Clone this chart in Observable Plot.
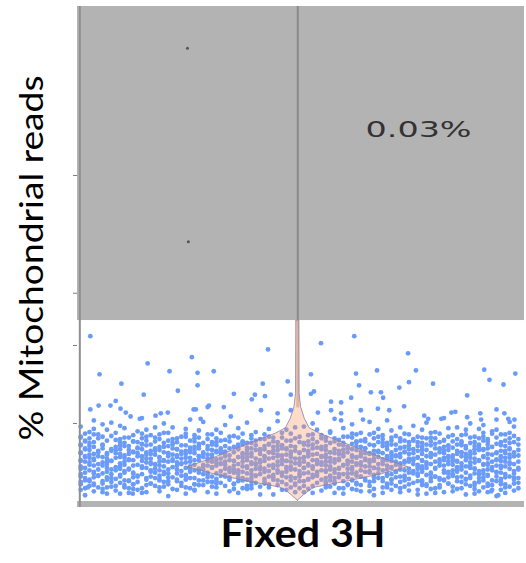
<!DOCTYPE html>
<html><head><meta charset="utf-8">
<script src="https://cdn.jsdelivr.net/npm/d3@7"></script>
<script src="https://cdn.jsdelivr.net/npm/@observablehq/plot@0.6"></script>
<style>body{margin:0;background:#fff}#chart svg{display:block}</style>
</head><body><div id="chart"></div>
<script>
// Jittered cells: [jitter x (0-100), value] pairs — dense band near the bottom
const bandPts = [
1,0.8, 6,1.0, 11,1.1, 20,0.7, 31,1.0, 44,0.9, 58,1.1, 67,0.8, 79,1.0, 88,0.9, 95,0.7,
0,1.5, 3,1.3, 8,1.4, 12,1.6, 15,1.2, 22,1.5, 26,1.4, 34,1.3, 38,1.6, 47,1.5, 51,1.2, 55,1.4, 62,1.6, 66,1.3, 71,1.5, 75,1.4, 83,1.2, 86,1.6, 91,1.3, 96,1.5, 99,1.4,
2,2.0, 4,1.8, 7,1.9, 10,2.1, 14,1.7, 17,2.0, 19,1.9, 24,1.8, 28,2.1, 30,1.9, 33,2.0, 37,1.7, 41,1.9, 45,2.1, 48,1.8, 53,2.0, 57,1.9, 60,1.7, 64,2.1, 69,1.8, 72,2.0, 74,1.9, 78,2.1, 81,1.7, 85,1.9, 89,2.0, 92,1.8, 94,2.1, 98,1.9,
0,2.5, 3,2.3, 5,2.6, 9,2.4, 12,2.2, 13,2.5, 16,2.3, 20,2.6, 23,2.4, 26,2.2, 29,2.5, 32,2.4, 35,2.3, 36,2.6, 40,2.4, 43,2.2, 46,2.5, 49,2.3, 50,2.6, 54,2.4, 58,2.5, 61,2.2, 63,2.4, 67,2.6, 70,2.3, 73,2.5, 76,2.4, 79,2.2, 80,2.6, 84,2.3, 87,2.5, 90,2.4, 93,2.3, 95,2.6, 97,2.2, 100,2.4,
1,3.0, 2,2.8, 6,3.1, 8,2.9, 11,2.7, 15,3.0, 18,2.9, 21,3.1, 22,2.8, 25,3.0, 27,2.7, 31,2.9, 34,3.1, 38,2.8, 39,3.0, 42,2.9, 45,2.7, 47,3.1, 52,2.9, 55,2.8, 56,3.0, 59,3.1, 62,2.7, 65,2.9, 68,3.0, 71,2.8, 72,3.1, 75,2.9, 78,2.7, 82,3.0, 83,2.8, 86,3.1, 88,2.9, 91,3.0, 94,2.7, 96,2.9, 99,3.1,
0,3.5, 4,3.3, 5,3.6, 9,3.4, 13,3.2, 14,3.5, 18,3.3, 20,3.6, 24,3.4, 28,3.5, 30,3.2, 33,3.4, 36,3.6, 40,3.3, 41,3.5, 44,3.4, 48,3.2, 51,3.6, 53,3.4, 57,3.3, 60,3.5, 61,3.6, 64,3.2, 67,3.4, 70,3.5, 74,3.3, 77,3.6, 79,3.4, 81,3.2, 85,3.5, 89,3.3, 90,3.6, 93,3.4, 97,3.5, 98,3.2,
2,4.0, 3,3.8, 7,4.1, 10,3.9, 12,3.7, 16,4.0, 19,3.8, 22,4.1, 23,3.9, 26,4.0, 29,3.7, 32,3.9, 35,4.1, 37,3.8, 39,4.0, 43,3.9, 46,3.7, 49,4.1, 50,3.9, 54,3.8, 55,4.0, 58,4.1, 63,3.7, 66,3.9, 69,4.0, 72,3.8, 73,4.1, 76,3.9, 80,3.7, 83,4.0, 84,3.8, 87,4.1, 91,3.9, 92,4.0, 95,3.7, 99,3.9,
0,4.5, 1,4.3, 5,4.6, 8,4.4, 11,4.2, 14,4.5, 15,4.3, 18,4.6, 21,4.4, 25,4.5, 27,4.2, 30,4.4, 31,4.6, 34,4.3, 38,4.5, 41,4.4, 42,4.2, 45,4.6, 47,4.4, 51,4.3, 53,4.5, 56,4.6, 59,4.2, 62,4.4, 65,4.5, 67,4.3, 70,4.6, 71,4.4, 75,4.2, 78,4.5, 81,4.3, 82,4.6, 86,4.4, 88,4.5, 90,4.2, 94,4.4, 96,4.6, 100,4.3,
2,5.0, 4,4.8, 6,5.1, 9,4.9, 13,4.7, 16,5.0, 17,4.8, 20,5.1, 23,4.9, 24,5.0, 28,4.7, 32,4.9, 33,5.1, 36,4.8, 39,5.0, 40,4.9, 44,4.7, 48,5.1, 49,4.9, 52,4.8, 55,5.0, 57,5.1, 60,4.7, 63,4.9, 64,5.0, 68,4.8, 72,5.1, 73,4.9, 77,4.7, 79,5.0, 80,4.8, 84,5.1, 87,4.9, 89,5.0, 92,4.7, 93,4.9, 97,5.1, 99,4.8,
0,5.3, 3,5.5, 7,5.2, 8,5.6, 11,5.4, 12,5.3, 15,5.5, 19,5.2, 21,5.4, 25,5.6, 26,5.3, 29,5.5, 31,5.4, 35,5.2, 37,5.6, 41,5.3, 43,5.5, 46,5.4, 47,5.2, 50,5.5, 54,5.3, 56,5.6, 58,5.4, 61,5.2, 65,5.5, 66,5.3, 69,5.4, 71,5.6, 74,5.2, 76,5.5, 78,5.3, 82,5.4, 83,5.6, 86,5.2, 90,5.5, 91,5.3, 95,5.4, 98,5.6,
1,5.8, 2,6.0, 5,5.7, 9,6.1, 10,5.9, 14,5.8, 17,6.0, 18,5.7, 22,5.9, 24,6.1, 27,5.8, 30,6.0, 34,5.9, 36,5.7, 38,6.1, 42,5.8, 45,6.0, 46,5.9, 51,5.7, 53,6.0, 55,5.8, 59,6.1, 62,5.9, 63,5.7, 67,6.0, 70,5.8, 72,5.9, 75,6.1, 77,5.7, 81,6.0, 84,5.8, 85,5.9, 88,6.1, 92,5.7, 94,6.0, 96,5.8, 100,5.9,
0,6.3, 4,6.5, 6,6.2, 8,6.6, 12,6.4, 15,6.3, 16,6.5, 20,6.2, 23,6.4, 26,6.6, 28,6.3, 31,6.5, 33,6.4, 37,6.2, 40,6.6, 43,6.3, 44,6.5, 48,6.4, 50,6.2, 52,6.5, 57,6.3, 60,6.6, 64,6.4, 66,6.2, 68,6.5, 71,6.3, 74,6.4, 79,6.6, 80,6.2, 83,6.5, 87,6.3, 89,6.4, 91,6.6, 95,6.2, 97,6.5, 99,6.3,
1,6.8, 3,7.0, 7,6.7, 10,7.1, 13,6.9, 17,6.8, 19,7.0, 22,6.7, 25,6.9, 29,7.1, 32,6.8, 35,7.0, 38,6.9, 41,6.7, 45,7.1, 47,6.8, 49,7.0, 54,6.9, 58,6.7, 61,7.0, 65,6.8, 69,7.1, 73,6.9, 76,6.7, 78,7.0, 82,6.8, 85,6.9, 88,7.1, 92,6.7, 94,7.0, 98,6.8,
0,7.3, 2,7.5, 5,7.2, 9,7.6, 14,7.4, 16,7.3, 21,7.5, 24,7.2, 27,7.4, 30,7.6, 36,7.3, 39,7.5, 43,7.4, 46,7.2, 50,7.6, 53,7.3, 57,7.5, 62,7.4, 67,7.2, 70,7.5, 72,7.3, 77,7.6, 81,7.4, 84,7.2, 89,7.5, 91,7.3, 95,7.4, 99,7.6,
1,7.8, 4,8.1, 8,7.9, 12,7.7, 18,8.0, 20,7.8, 26,8.1, 33,7.9, 37,7.7, 42,8.0, 48,7.8, 55,8.1, 59,7.9, 63,7.7, 69,8.0, 74,7.8, 79,8.1, 83,7.9, 87,7.7, 93,8.0, 97,7.8,
0,8.3, 3,8.6, 7,8.4, 11,8.2, 16,8.5, 23,8.3, 29,8.6, 35,8.4, 44,8.2, 52,8.5, 60,8.3, 66,8.6, 72,8.4, 78,8.2, 85,8.5, 90,8.3, 96,8.6, 99,8.4,
2,8.9, 6,9.2, 13,9.0, 19,8.8, 27,9.1, 40,8.9, 47,9.2, 57,9.0, 64,8.8, 71,9.1, 81,8.9, 88,9.2, 94,9.0, 98,8.8,
0,9.6, 5,9.9, 9,9.7, 21,9.5, 33,9.8, 51,9.6, 62,9.9, 76,9.7, 86,9.5, 92,9.8, 99,9.6,
3,10.4, 14,10.7, 25,10.5, 45,10.3, 58,10.6, 70,10.4, 83,10.7, 95,10.5
];
// second, interleaved set of band cells
const bandPts2 = [
5,1.2, 9,1.0, 14,1.1, 18,1.3, 24,1.0, 29,1.2, 36,1.1, 41,0.9, 49,1.2, 53,1.1, 60,1.0, 64,1.3, 69,1.1, 73,1.2, 77,0.9, 81,1.1, 85,1.3, 90,1.0, 93,1.2, 97,1.1,
1,1.7, 5,1.6, 6,1.8, 11,1.7, 13,1.5, 18,1.8, 21,1.6, 25,1.7, 26,1.5, 31,1.8, 35,1.6, 39,1.7, 43,1.8, 46,1.5, 50,1.7, 52,1.6, 56,1.8, 59,1.7, 63,1.5, 67,1.6, 70,1.8, 73,1.7, 77,1.5, 80,1.6, 82,1.8, 87,1.7, 90,1.6, 94,1.5, 97,1.8, 100,1.7,
0,2.2, 3,2.1, 5,2.3, 8,2.0, 12,2.2, 15,2.1, 16,2.3, 20,2.2, 23,2.0, 26,2.2, 27,2.1, 31,2.3, 35,2.2, 38,2.0, 39,2.1, 42,2.3, 47,2.2, 49,2.1, 51,2.0, 56,2.2, 58,2.3, 61,2.1, 63,2.2, 66,2.0, 70,2.1, 71,2.3, 75,2.2, 79,2.0, 82,2.1, 84,2.3, 88,2.2, 90,2.1, 93,2.0, 96,2.2, 99,2.3,
1,2.7, 2,2.6, 6,2.8, 7,2.5, 10,2.7, 11,2.6, 15,2.8, 18,2.7, 19,2.5, 22,2.6, 24,2.8, 28,2.7, 30,2.5, 31,2.6, 34,2.8, 37,2.7, 39,2.6, 42,2.5, 44,2.8, 48,2.7, 51,2.6, 52,2.8, 56,2.5, 57,2.7, 60,2.6, 62,2.8, 65,2.7, 66,2.5, 69,2.6, 71,2.8, 74,2.7, 77,2.6, 78,2.5, 82,2.8, 83,2.7, 86,2.6, 88,2.8, 91,2.5, 92,2.7, 96,2.6, 99,2.8,
0,3.2, 3,3.1, 4,3.3, 7,3.0, 9,3.2, 12,3.1, 13,3.3, 16,3.2, 17,3.0, 20,3.1, 23,3.3, 24,3.2, 26,3.0, 29,3.1, 32,3.3, 33,3.2, 36,3.1, 37,3.0, 40,3.3, 43,3.2, 44,3.1, 46,3.3, 49,3.0, 50,3.2, 53,3.1, 54,3.3, 57,3.2, 58,3.0, 61,3.1, 63,3.3, 64,3.2, 67,3.1, 69,3.0, 70,3.3, 73,3.2, 74,3.1, 77,3.3, 80,3.0, 81,3.2, 84,3.1, 85,3.3, 87,3.2, 89,3.0, 92,3.1, 93,3.3, 95,3.2, 97,3.1, 100,3.0,
1,3.7, 3,3.6, 6,3.8, 7,3.5, 10,3.7, 12,3.6, 16,3.8, 17,3.7, 19,3.5, 22,3.6, 25,3.8, 27,3.7, 29,3.5, 31,3.6, 34,3.8, 35,3.7, 38,3.6, 39,3.5, 42,3.8, 45,3.7, 46,3.6, 47,3.8, 50,3.5, 52,3.7, 54,3.6, 56,3.8, 58,3.7, 59,3.5, 62,3.6, 65,3.8, 66,3.7, 68,3.6, 71,3.5, 72,3.8, 75,3.7, 76,3.6, 78,3.8, 80,3.5, 83,3.7, 84,3.6, 86,3.8, 88,3.7, 91,3.5, 92,3.6, 95,3.8, 96,3.7, 99,3.6,
0,4.2, 4,4.1, 6,4.3, 8,4.0, 9,4.2, 11,4.1, 14,4.3, 17,4.2, 18,4.0, 20,4.1, 24,4.3, 25,4.2, 27,4.0, 28,4.1, 30,4.3, 33,4.2, 34,4.1, 36,4.0, 38,4.3, 40,4.2, 41,4.1, 44,4.3, 45,4.0, 47,4.2, 48,4.1, 51,4.3, 53,4.2, 56,4.0, 57,4.1, 59,4.3, 61,4.2, 62,4.1, 64,4.0, 67,4.3, 68,4.2, 70,4.1, 71,4.3, 74,4.0, 77,4.2, 78,4.1, 79,4.3, 81,4.2, 85,4.0, 86,4.1, 89,4.3, 90,4.2, 93,4.1, 94,4.0, 96,4.3, 98,4.2, 100,4.1,
2,4.7, 3,4.6, 6,4.8, 9,4.5, 10,4.7, 12,4.6, 16,4.8, 17,4.7, 19,4.5, 22,4.6, 23,4.8, 26,4.7, 28,4.5, 29,4.6, 32,4.8, 33,4.7, 35,4.6, 37,4.5, 39,4.8, 40,4.7, 43,4.6, 46,4.8, 48,4.5, 50,4.7, 52,4.6, 54,4.8, 55,4.7, 57,4.5, 60,4.6, 61,4.8, 63,4.7, 64,4.6, 66,4.5, 69,4.8, 72,4.7, 73,4.6, 76,4.8, 77,4.5, 79,4.7, 83,4.6, 84,4.8, 85,4.7, 87,4.5, 89,4.6, 92,4.8, 93,4.7, 95,4.6, 97,4.5, 98,4.8,
0,5.2, 1,5.1, 3,5.3, 5,5.0, 7,5.2, 10,5.1, 11,5.3, 14,5.2, 15,5.0, 18,5.1, 19,5.3, 21,5.2, 22,5.0, 25,5.1, 27,5.3, 29,5.2, 30,5.1, 31,5.0, 34,5.3, 35,5.2, 37,5.1, 38,5.3, 41,5.0, 42,5.2, 45,5.1, 46,5.3, 47,5.2, 50,5.0, 51,5.1, 53,5.3, 54,5.2, 56,5.1, 58,5.0, 59,5.3, 61,5.2, 62,5.1, 65,5.3, 66,5.0, 67,5.2, 69,5.1, 70,5.3, 71,5.2, 74,5.0, 75,5.1, 76,5.3, 78,5.2, 81,5.1, 82,5.0, 83,5.3, 85,5.2, 86,5.1, 88,5.3, 90,5.0, 91,5.2, 94,5.1, 95,5.3, 96,5.2, 98,5.0, 100,5.1,
1,5.7, 2,5.6, 4,5.8, 6,5.5, 9,5.7, 10,5.6, 13,5.8, 14,5.7, 16,5.5, 18,5.6, 20,5.8, 22,5.7, 23,5.5, 24,5.6, 27,5.8, 28,5.7, 30,5.6, 32,5.5, 33,5.8, 36,5.7, 38,5.6, 39,5.8, 40,5.5, 42,5.7, 44,5.6, 45,5.8, 48,5.7, 49,5.5, 51,5.6, 52,5.8, 55,5.7, 57,5.6, 59,5.5, 60,5.8, 62,5.7, 63,5.6, 64,5.8, 67,5.5, 68,5.7, 70,5.6, 72,5.8, 73,5.7, 75,5.5, 77,5.6, 79,5.8, 80,5.7, 84,5.6, 85,5.5, 87,5.8, 88,5.7, 89,5.6, 92,5.8, 93,5.5, 96,5.7, 97,5.6, 99,5.8,
0,6.2, 3,6.1, 4,6.3, 6,6.0, 8,6.2, 11,6.1, 12,6.3, 13,6.2, 15,6.0, 16,6.1, 19,6.3, 20,6.2, 21,6.0, 23,6.1, 25,6.3, 26,6.2, 28,6.1, 29,6.0, 31,6.3, 32,6.2, 33,6.1, 35,6.3, 37,6.0, 39,6.2, 41,6.1, 43,6.3, 44,6.2, 47,6.0, 48,6.1, 50,6.3, 52,6.2, 54,6.1, 56,6.0, 57,6.3, 58,6.2, 60,6.1, 61,6.3, 64,6.0, 65,6.2, 66,6.1, 68,6.3, 69,6.2, 71,6.0, 73,6.1, 74,6.3, 76,6.2, 78,6.1, 80,6.0, 82,6.3, 83,6.2, 86,6.1, 87,6.3, 89,6.0, 90,6.2, 93,6.1, 95,6.3, 97,6.2, 98,6.0,
1,6.7, 2,6.6, 5,6.8, 7,6.5, 9,6.7, 11,6.6, 13,6.8, 14,6.7, 17,6.5, 18,6.6, 21,6.8, 22,6.7, 24,6.5, 25,6.6, 27,6.8, 29,6.7, 30,6.6, 32,6.5, 34,6.8, 36,6.7, 38,6.6, 39,6.8, 41,6.5, 42,6.7, 45,6.6, 46,6.8, 47,6.7, 49,6.5, 51,6.6, 53,6.8, 55,6.7, 56,6.6, 59,6.5, 61,6.8, 62,6.7, 63,6.6, 65,6.8, 67,6.5, 70,6.7, 72,6.6, 73,6.8, 75,6.7, 77,6.5, 78,6.6, 81,6.8, 82,6.7, 84,6.6, 86,6.5, 88,6.8, 90,6.7, 92,6.6, 93,6.8, 96,6.5, 98,6.7, 100,6.6,
0,7.2, 2,7.1, 5,7.3, 8,7.0, 9,7.2, 11,7.1, 14,7.3, 15,7.2, 18,7.0, 20,7.1, 21,7.3, 23,7.2, 26,7.0, 27,7.1, 30,7.3, 31,7.2, 33,7.1, 36,7.0, 37,7.3, 40,7.2, 42,7.1, 43,7.3, 44,7.0, 46,7.2, 48,7.1, 51,7.3, 52,7.2, 55,7.0, 56,7.1, 59,7.3, 60,7.2, 63,7.1, 64,7.0, 66,7.3, 67,7.2, 70,7.1, 71,7.3, 74,7.0, 75,7.2, 77,7.1, 79,7.3, 80,7.2, 83,7.0, 84,7.1, 86,7.3, 87,7.2, 90,7.1, 91,7.0, 93,7.3, 96,7.2, 97,7.1, 100,7.3,
1,7.7, 3,7.6, 6,7.8, 10,7.5, 12,7.7, 13,7.6, 15,7.8, 17,7.7, 19,7.5, 22,7.6, 25,7.8, 26,7.7, 28,7.5, 31,7.6, 32,7.8, 34,7.7, 37,7.6, 38,7.5, 40,7.8, 44,7.7, 45,7.6, 47,7.8, 51,7.5, 52,7.7, 54,7.6, 56,7.8, 58,7.7, 60,7.5, 63,7.6, 64,7.8, 65,7.7, 68,7.6, 69,7.5, 71,7.8, 73,7.7, 75,7.6, 76,7.8, 78,7.5, 80,7.7, 82,7.6, 83,7.8, 85,7.7, 87,7.5, 90,7.6, 92,7.8, 93,7.7, 96,7.6, 98,7.5,
0,8.2, 2,8.1, 5,8.3, 9,8.0, 10,8.2, 14,8.1, 15,8.3, 17,8.2, 21,8.0, 22,8.1, 24,8.3, 27,8.2, 29,8.0, 31,8.1, 34,8.3, 36,8.2, 39,8.1, 41,8.0, 43,8.3, 46,8.2, 49,8.1, 50,8.3, 53,8.0, 56,8.2, 58,8.1, 61,8.3, 62,8.2, 65,8.0, 67,8.1, 68,8.3, 71,8.2, 73,8.1, 76,8.0, 77,8.3, 80,8.2, 81,8.1, 84,8.3, 86,8.0, 89,8.2, 91,8.1, 92,8.3, 95,8.2, 98,8.1, 100,8.0,
1,8.7, 4,8.6, 8,8.8, 12,8.5, 14,8.7, 18,8.6, 20,8.8, 24,8.7, 26,8.5, 30,8.6, 32,8.8, 37,8.7, 39,8.5, 42,8.6, 46,8.8, 48,8.7, 53,8.6, 55,8.5, 57,8.8, 62,8.7, 63,8.6, 67,8.8, 69,8.5, 74,8.7, 75,8.6, 80,8.8, 82,8.7, 87,8.5, 88,8.6, 92,8.8, 94,8.7, 97,8.6,
3,9.3, 10,9.4, 15,9.2, 17,9.5, 24,9.3, 31,9.2, 36,9.4, 43,9.3, 49,9.5, 54,9.2, 60,9.4, 68,9.3, 73,9.5, 78,9.2, 84,9.4, 91,9.3, 95,9.2,
7,10.1, 19,10.0, 28,10.2, 38,10.1, 53,10.0, 66,10.2, 79,10.1, 89,10.0, 98,10.2
];
// Sparse outlier cells: [jitter x, value]
const sparsePts = [
2.2,21.2, 15.3,17.7, 4.3,16.3, 20.3,16.7, 25.4,18.5, 26.7,16.5, 9.3,15.1, 26.7,14.9, 22.2,14.2, 14.4,13.7, 8.0,12.9, 4.1,12.3, 6.8,12.3, 9.1,11.9, 2.2,11.8, 10.3,11.4, 11.4,10.9, 13.5,10.6, 17.1,11.0, 18.3,11.3, 19.9,11.4, 25.8,11.8, 29.0,12.1,
42.8,19.5, 54.9,20.3, 62.5,21.2, 74.8,19.0, 30.4,16.7, 41.6,15.1, 47.3,15.4, 52.6,16.3, 62.9,16.4, 67.7,16.8, 63.6,14.9, 75.0,15.3, 76.6,16.8, 72.8,14.6, 35.0,13.8, 39.1,13.1, 39.8,13.7, 42.1,13.5, 48.0,13.7, 52.6,13.8, 53.3,14.1, 57.2,12.8, 59.5,12.7, 66.3,14.0, 68.6,14.0, 69.1,13.3, 61.8,13.3, 26.3,11.8, 32.7,12.1, 29.3,12.3,
80.5,15.1, 88.3,13.6, 92.2,16.9, 93.4,15.6, 96.6,15.0, 99.3,16.4, 73.9,12.2, 84.7,11.4, 85.6,11.5, 91.3,11.3, 95.0,11.8, 96.8,11.3, 78.5,11.0, 79.4,10.6, 82.4,10.6, 88.3,10.8, 91.5,10.5, 97.7,10.6, 99.1,10.5,
93.8,1.3, 95.4,0.8, 11.9,1.0, 1.6,1.8, 10.0,1.8,
41.2,11.7, 45.0,11.3, 48.0,11.7, 54.2,11.4, 57.2,11.7, 59.5,11.3, 64.0,11.7, 67.9,11.9, 70.5,11.7, 64.5,10.5, 59.5,10.4, 34.3,10.9, 27.4,10.6
];
// Violin profile: value and half-width (in jitter units)
const violinY    = [0.1, 0.8, 1.4, 1.8, 2.6, 3.5, 4.4, 5.5, 7.2, 8.7, 9.4, 10.6, 12.1, 13.8, 23.2];
const violinHalf = [0,   1.4, 2.7, 4.1, 11.7, 19.2, 25.2, 19.5, 11.9, 5.0, 2.7, 1.6, 0.76, 0.4, 0.34];
const violinCenter = 49.6;
// cells hidden under the grey overlay (only two remain visible)
const overlayPts = [24.4,58.1, 24.6,33.3];
const tickVals = [10, 20, 26.7, 41.8];
const pctLabel = "0.03%";
const yLabel = "% Mitochondrial reads";
const xLabel = "Fixed 3H";

const pairs = a => { const o = []; for (let i = 0; i < a.length; i += 2) o.push({x: a[i], y: a[i + 1]}); return o; };
const cells = pairs(bandPts).concat(pairs(bandPts2), pairs(sparsePts));
const overlay = pairs(overlayPts);
const violin = violinY.map((y, i) => ({y, lo: violinCenter - violinHalf[i], hi: violinCenter + violinHalf[i]}));

const X0 = -0.73, X1 = 101.4, Y0 = 0, Y1 = 63.46, GRAY = 23.2;

const chart = Plot.plot({
  width: 526, height: 563,
  marginLeft: 77, marginRight: 2, marginTop: 6, marginBottom: 62,
  x: {domain: [X0, X1], axis: null},
  y: {domain: [Y0, Y1], axis: null},
  style: {background: "#ffffff", overflow: "visible"},
  marks: [
    Plot.ruleX([violinCenter], {y1: 12, y2: GRAY, stroke: "#cdc4bd", strokeWidth: 3}),
    Plot.dot(cells, {x: "x", y: "y", r: 2.4, fill: "#6a9bf9", stroke: "none"}),
    Plot.areaX(violin, {y: "y", x1: "lo", x2: "hi", fill: "#ff9c6c", fillOpacity: 0.36, stroke: "#8a80a8", strokeOpacity: 0.8, strokeWidth: 1}),
    Plot.rect([0], {x1: X0, x2: X1, y1: GRAY, y2: Y1, fill: "#b3b3b3"}),
    Plot.rect([0], {x1: X0, x2: X1, y1: -0.77, y2: 0, fill: "#b3b3b3"}),
    Plot.ruleX([-0.2], {y1: -0.77, y2: Y1, stroke: "#8f8f8f", strokeWidth: 2}),
    Plot.axisY({ticks: tickVals, tickFormat: () => "", tickSize: 4, stroke: "#7a7a7a", label: null}),
    Plot.ruleX([violinCenter], {y1: GRAY, y2: Y1, stroke: "#8a8a8a", strokeWidth: 2}),
    Plot.dot(overlay, {x: "x", y: "y", r: 1.5, fill: "#555"}),
    Plot.text([pctLabel], {x: 77.2, y: 47.6, text: d => d, fontSize: 21, fontFamily: "DejaVu Sans", fill: "#333", lineAnchor: "middle"}),
    Plot.text([yLabel], {frameAnchor: "left", text: d => d, rotate: -90, dx: -45, dy: 4, fontSize: 33, fontFamily: "Lato, sans-serif", fill: "#000", textAnchor: "middle", lineAnchor: "middle"}),
    Plot.text([xLabel], {frameAnchor: "bottom", text: d => d, dx: 2, dy: 33, fontSize: 38, fontWeight: "bold", fontFamily: "Lato, sans-serif", fill: "#000", textAnchor: "middle", lineAnchor: "middle"})
  ]
});
const lengths = {[yLabel]: 365, [xLabel]: 165, [pctLabel]: 106};
d3.select(chart).selectAll("text").each(function () {
  const L = lengths[this.textContent];
  if (L) {
    d3.select(this).attr("textLength", L).attr("lengthAdjust", "spacingAndGlyphs");
    d3.select(this).selectAll("tspan").attr("textLength", L).attr("lengthAdjust", "spacingAndGlyphs");
  }
});
document.getElementById("chart").appendChild(chart);
</script>
</body></html>
